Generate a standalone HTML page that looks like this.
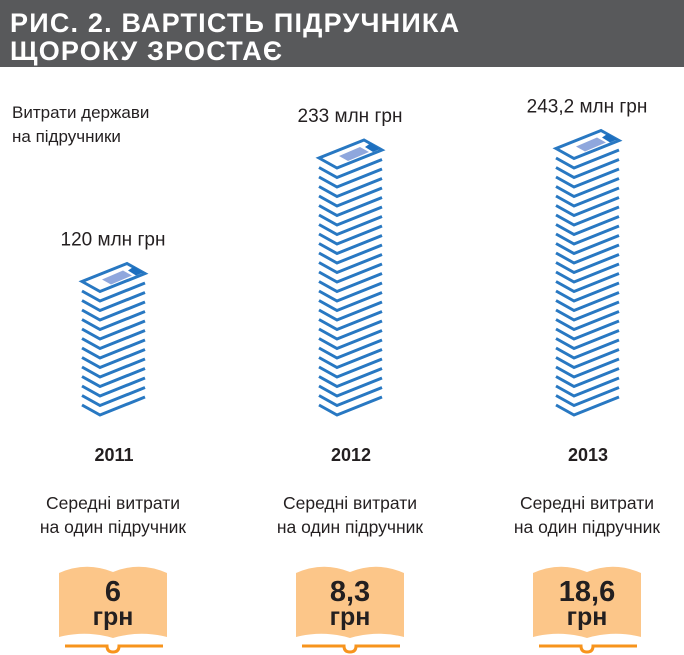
<!DOCTYPE html>
<html><head><meta charset="utf-8"><style>
body{margin:0;background:#fff;}
svg{display:block;font-family:"Liberation Sans",sans-serif;}
</style></head><body>
<svg id="c" width="684" height="655" viewBox="0 0 684 655">
<rect x="0" y="0" width="684" height="67" fill="#58595b"/>
<text x="10" y="32" fill="#fff" font-size="27" font-weight="bold" letter-spacing="1.2">РИС. 2. ВАРТІСТЬ ПІДРУЧНИКА</text>
<text x="10" y="60" fill="#fff" font-size="27" font-weight="bold" letter-spacing="1.2">ЩОРОКУ ЗРОСТАЄ</text>
<text x="12" y="118" font-size="17" fill="#231f20">Витрати держави</text>
<text x="12" y="142" font-size="17" fill="#231f20">на підручники</text>
<g id="stacks"></g>
</svg>
<script>
const years = ["2011","2012","2013"];
const spending = [120, 233, 243.2];
const spendingLabels = ["120 млн грн","233 млн грн","243,2 млн грн"];
const perBook = [6, 8.3, 18.6];
const perBookLabels = ["6","8,3","18,6"];

const NS="http://www.w3.org/2000/svg";
const svg=document.getElementById('stacks');
const centers=[113,350,587];
const baseY=415, spacing=9.5, perLayer=8.7;
function layersFor(v){return Math.round(v/perLayer);}
function mk(tag,attrs,parent){const e=document.createElementNS(NS,tag);for(const k in attrs)e.setAttribute(k,attrs[k]);(parent||svg).appendChild(e);return e;}
years.forEach((yr,i)=>{
  const cx=centers[i], x0=cx-31;
  const n=layersFor(spending[i]);
  const g=mk('g',{});
  
  
  let topV=baseY;
  for(let k=0;k<n;k++){
    const yv=baseY-k*spacing; topV=yv;
    if(k===n-1) break;
    const p=mk('polyline',{points:`${x0},${yv-10} ${x0+18},${yv} ${x0+63},${yv-18}`,fill:'none',stroke:'#2878c2','stroke-width':3},g);
    
    
  }
  const yv=topV;
  const cover=mk('polygon',{points:`${x0},${yv-10} ${x0+18},${yv} ${x0+63},${yv-18} ${x0+45},${yv-28}`,fill:'#fff',stroke:'#2878c2','stroke-width':3},g);
  
  
  mk('polygon',{points:`${x0+20},${yv-12} ${x0+29},${yv-7} ${x0+50},${yv-16} ${x0+41},${yv-21}`,fill:'#8fa7dd'},g);
  mk('polygon',{points:`${x0+46},${yv-21} ${x0+54},${yv-16} ${x0+61},${yv-19} ${x0+52},${yv-25}`,fill:'#1d6fbf'},g);
  const lbl=mk('text',{x:cx,y:yv-46,'text-anchor':'middle','font-size':19,fill:'#231f20'});
  lbl.textContent=spendingLabels[i];
  
  
  const yl=mk('text',{x:cx+1,y:461,'text-anchor':'middle','font-size':18,'font-weight':'bold',fill:'#231f20'});
  yl.textContent=yr;
  
  
  const c1=mk('text',{x:cx,y:509,'text-anchor':'middle','font-size':17.5,fill:'#231f20'});
  c1.textContent='Середні витрати';
  
  
  const c2=mk('text',{x:cx,y:533,'text-anchor':'middle','font-size':17.5,fill:'#231f20'});
  c2.textContent='на один підручник';
  
  
  const bx=cx;
  const book=mk('path',{d:`M${bx-54},573 Q${bx-27},561 ${bx},572 Q${bx+27},561 ${bx+54},573 L${bx+54},637 Q${bx+27},630 ${bx},638 Q${bx-27},630 ${bx-54},637 Z`,fill:'#fcc689'});
  
  
  const ln=mk('path',{d:`M${bx-48},646 L${bx-6},646 Q${bx-6},652 ${bx},652 Q${bx+6},652 ${bx+6},646 L${bx+50},646`,fill:'none',stroke:'#f7941d','stroke-width':3});
  
  
  const v=mk('text',{x:bx,y:601,'text-anchor':'middle','font-size':29,'font-weight':'bold',fill:'#231f20'});
  v.textContent=perBookLabels[i];
  
  
  const u=mk('text',{x:bx,y:625,'text-anchor':'middle','font-size':25,'font-weight':'bold',fill:'#231f20'});
  u.textContent='грн';
  
  
});
</script>
</body></html>
